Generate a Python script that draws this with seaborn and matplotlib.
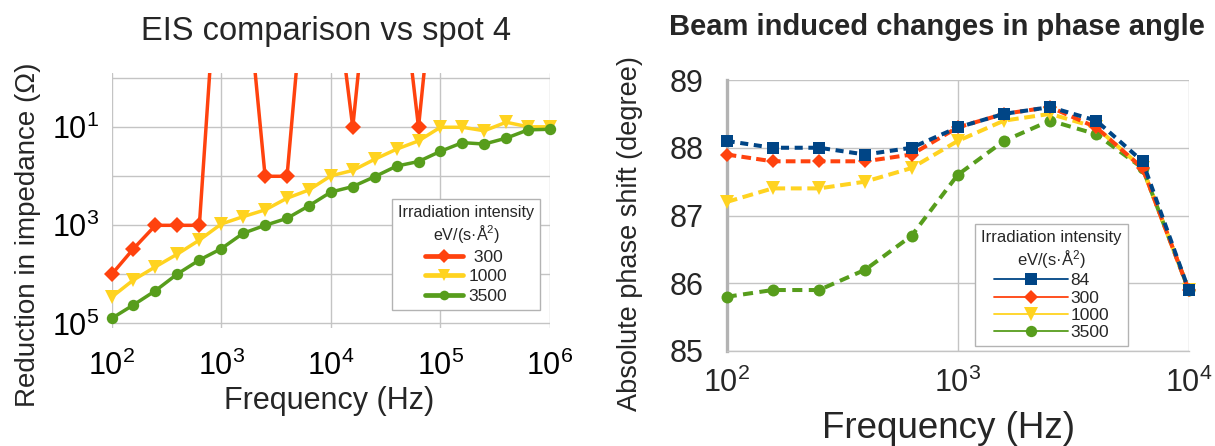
import numpy as np
import pandas as pd
import matplotlib
matplotlib.use("Agg")
import matplotlib.pyplot as plt
from matplotlib.lines import Line2D
from matplotlib.ticker import FixedLocator, FuncFormatter, NullLocator
from matplotlib.transforms import Bbox, TransformedBbox
import seaborn as sns

# ---------------- data ----------------
# EIS comparison vs spot 4 (reduction in impedance, ohm)
eis_freq_hz = [100, 158, 251, 398, 631, 1000, 1585, 2512, 3981, 6310, 10000,
               15849, 25119, 39811, 63096, 100000, 158489, 251189, 398107,
               630957, 1000000]
eis_300 = [1.0e4, 3.0e3, 1.0e3, 1.0e3, 1.0e3, 2.6e-4, 2.2e-3, 1.0e2, 1.0e2,
           8.7e-4, 2.7e-3, 1.0e1, 4.1e-4, 1.4e-3, 1.0e1, 4.1e-4]
eis_1000 = [29000, 13000, 7000, 3850, 2000, 940, 665, 485, 280, 190, 98, 76,
            45, 28, 19, 10, 10, 11.8, 7.9, 9.8, 9.8]
eis_3500 = [79000, 42000, 21500, 9800, 5100, 3000, 1450, 1000, 720, 400, 210,
            162, 102, 62, 50, 31, 20.6, 22, 16.7, 11.3, 11]
eis_labels = [" 300", "1000", "3500"]

# Beam induced changes in phase angle (degree)
phase_freq_hz = [100, 158, 251, 398, 631, 1000, 1585, 2512, 3981, 6310, 10000]
phase_84 = [88.1, 88.0, 88.0, 87.9, 88.0, 88.3, 88.5, 88.6, 88.4, 87.8, 85.9]
phase_300 = [87.9, 87.8, 87.8, 87.8, 87.9, 88.3, 88.5, 88.6, 88.3, 87.7, 85.9]
phase_1000 = [87.2, 87.4, 87.4, 87.5, 87.7, 88.1, 88.4, 88.5, 88.3, 87.7, 85.9]
phase_3500 = [85.8, 85.9, 85.9, 86.2, 86.7, 87.6, 88.1, 88.4, 88.2, 87.7, 85.9]
phase_labels = ["84", "300", "1000", "3500"]

# ---------------- style ----------------
sns.set_style("white")
plt.rcParams["font.family"] = ["Liberation Sans", "DejaVu Sans"]
plt.rcParams["mathtext.fontset"] = "custom"
plt.rcParams["mathtext.rm"] = "Liberation Sans"
plt.rcParams["mathtext.default"] = "regular"

BLUE, ORANGE, YELLOW, GREEN = "#004586", "#ff420e", "#ffd320", "#579d1c"
GRID = "#c4c4c4"
W, H = 1215, 446

fig = plt.figure(figsize=(W / 100, H / 100), dpi=100)


def px_axes(x0, y0, x1, y1):
    return fig.add_axes([x0 / W, 1 - y1 / H, (x1 - x0) / W, (y1 - y0) / H])


def pow10(v, _pos):
    return r"$\mathdefault{10^{%d}}$" % round(np.log10(v))


def widen_clip(line, ax, dx=0.04):
    # keep markers on the left/right edges whole, still clip top/bottom
    line.set_clip_box(TransformedBbox(Bbox([[-dx, 0], [1 + dx, 1]]), ax.transAxes))


# ---------------- left: EIS comparison ----------------
axL = px_axes(111.7, 73.3, 550, 328.3)
axL.set_xscale("log")
axL.set_yscale("log")

eis_series = [
    (eis_300, ORANGE, "D", 7.8),
    (eis_1000, YELLOW, "v", 9.8),
    (eis_3500, GREEN, "o", 8.2),
]
for vals, col, mk, ms in eis_series:
    df = pd.DataFrame({"freq": eis_freq_hz[:len(vals)], "val": vals})
    sns.lineplot(data=df, x="freq", y="val", ax=axL, color=col, marker=mk,
                 markersize=ms, markeredgewidth=0, markeredgecolor=col,
                 linewidth=2.5, legend=False, estimator=None, sort=False)
    widen_clip(axL.lines[-1], axL)

axL.set_xlim(1e2, 1e6)
axL.set_ylim(10 ** 5.1, 10 ** -0.1)
axL.xaxis.set_major_locator(FixedLocator([1e2, 1e3, 1e4, 1e5, 1e6]))
axL.xaxis.set_major_formatter(FuncFormatter(pow10))
axL.xaxis.set_minor_locator(NullLocator())
axL.yaxis.set_major_locator(FixedLocator([1e0, 1e1, 1e2, 1e3, 1e4, 1e5]))
axL.yaxis.set_major_formatter(FuncFormatter(
    lambda v, p: pow10(v, p) if round(np.log10(v)) % 2 == 1 else ""))
axL.yaxis.set_minor_locator(NullLocator())
axL.grid(True, which="major", color=GRID, linewidth=1.0)
for s in axL.spines.values():
    s.set_visible(False)
axL.tick_params(axis="both", which="major", direction="out", length=4,
                width=1, color=GRID, labelsize=22, labelcolor="black")
axL.tick_params(axis="y", pad=5)
axL.tick_params(axis="x", pad=12)
axL.set_xlabel("")
axL.set_ylabel("")

legL_handles = [Line2D([], [], color=c, lw=3.4, marker=m, markersize=ms * 0.85,
                       markeredgewidth=0)
                for (_, c, m, ms) in eis_series]
legL = axL.legend(legL_handles, eis_labels,
                  title="Irradiation intensity\neV/(s·Å$^{2}$)",
                  loc="upper left", bbox_to_anchor=(392 / W, 1 - 199 / H),
                  bbox_transform=fig.transFigure, borderaxespad=0,
                  fontsize=12.5, title_fontsize=11.6, handlelength=2.2,
                  handletextpad=0.3, labelspacing=0.25, borderpad=0.35,
                  frameon=True, fancybox=False, framealpha=1)
legL.get_frame().set_edgecolor("#b3b3b3")
legL.get_frame().set_linewidth(1.0)
legL.get_title().set_multialignment("center")

fig.text(326 / W, 1 - 31.5 / H, "EIS comparison vs spot 4", fontsize=23.5,
         ha="center", va="center")
fig.text(329 / W, 1 - 401 / H, "Frequency (Hz)", fontsize=22,
         ha="center", va="center")
fig.text(28 / W, 1 - 235 / H, "Reduction in impedance (Ω)", fontsize=20,
         rotation=90, ha="center", va="center")

# ---------------- right: phase angle ----------------
axR = px_axes(726.7, 80, 1188.7, 351)
axR.set_xscale("log")

phase_series = [
    (phase_84, BLUE, "s", 8.6, (2.0, 1.4)),
    (phase_300, ORANGE, "D", 7.6, (2.4, 1.3)),
    (phase_1000, YELLOW, "v", 10.5, (2.7, 1.4)),
    (phase_3500, GREEN, "o", 8.6, (2.5, 1.6)),
]
n = len(phase_series)
for k, (vals, col, mk, ms, dash) in enumerate(phase_series):
    df = pd.DataFrame({"freq": phase_freq_hz, "val": vals})
    sns.lineplot(data=df, x="freq", y="val", ax=axR, color=col, marker=mk,
                 markersize=ms, markeredgewidth=0, markeredgecolor=col,
                 linewidth=2.9, legend=False, estimator=None, sort=False,
                 zorder=10 + (n - k), clip_on=False)
    axR.lines[-1].set_linestyle((0, dash))

axR.set_xlim(1e2, 1e4)
axR.set_ylim(85, 89)
axR.xaxis.set_major_locator(FixedLocator([1e2, 1e3, 1e4]))
axR.xaxis.set_major_formatter(FuncFormatter(pow10))
axR.xaxis.set_minor_locator(NullLocator())
axR.yaxis.set_major_locator(FixedLocator([85, 86, 87, 88, 89]))
axR.grid(True, which="major", color=GRID, linewidth=1.0)
axR.set_axisbelow(True)
for side in ("top", "right"):
    axR.spines[side].set_visible(False)
axR.spines["left"].set_color("#b3b3b3")
axR.spines["left"].set_linewidth(2.4)
axR.spines["bottom"].set_color(GRID)
axR.spines["bottom"].set_linewidth(1.0)
axR.tick_params(axis="y", direction="out", length=4.5, width=2.0,
                color="#b3b3b3", labelsize=22, pad=12)
axR.tick_params(axis="x", direction="out", length=4, width=1.0,
                color=GRID, labelsize=22, pad=8)
axR.set_xlabel("")
axR.set_ylabel("")

legR_handles = [Line2D([], [], color=c, lw=1.3, marker=m, markersize=ms * 0.95,
                       markeredgewidth=0)
                for (_, c, m, ms, _d) in phase_series]
legR = axR.legend(legR_handles, phase_labels,
                  title="Irradiation intensity\neV/(s·Å$^{2}$)",
                  loc="upper left", bbox_to_anchor=(975 / W, 1 - 224 / H),
                  bbox_transform=fig.transFigure, borderaxespad=0,
                  fontsize=12.5, title_fontsize=12, handlelength=4.3,
                  handletextpad=0.1, labelspacing=0.12, borderpad=0.35,
                  frameon=True, fancybox=False, framealpha=1)
legR.get_frame().set_edgecolor("#b3b3b3")
legR.get_frame().set_linewidth(1.0)
legR.get_title().set_multialignment("center")
legR.set_zorder(30)

fig.text(937 / W, 1 - 27 / H, "Beam induced changes in phase angle",
         fontsize=21, fontweight="bold", ha="center", va="center")
fig.text(948 / W, 1 - 428 / H, "Frequency (Hz)", fontsize=26.5,
         ha="center", va="center")
fig.text(630 / W, 1 - 234 / H, "Absolute phase shift (degree)", fontsize=19.5,
         rotation=90, ha="center", va="center")

fig.savefig("out.png", dpi=100)
